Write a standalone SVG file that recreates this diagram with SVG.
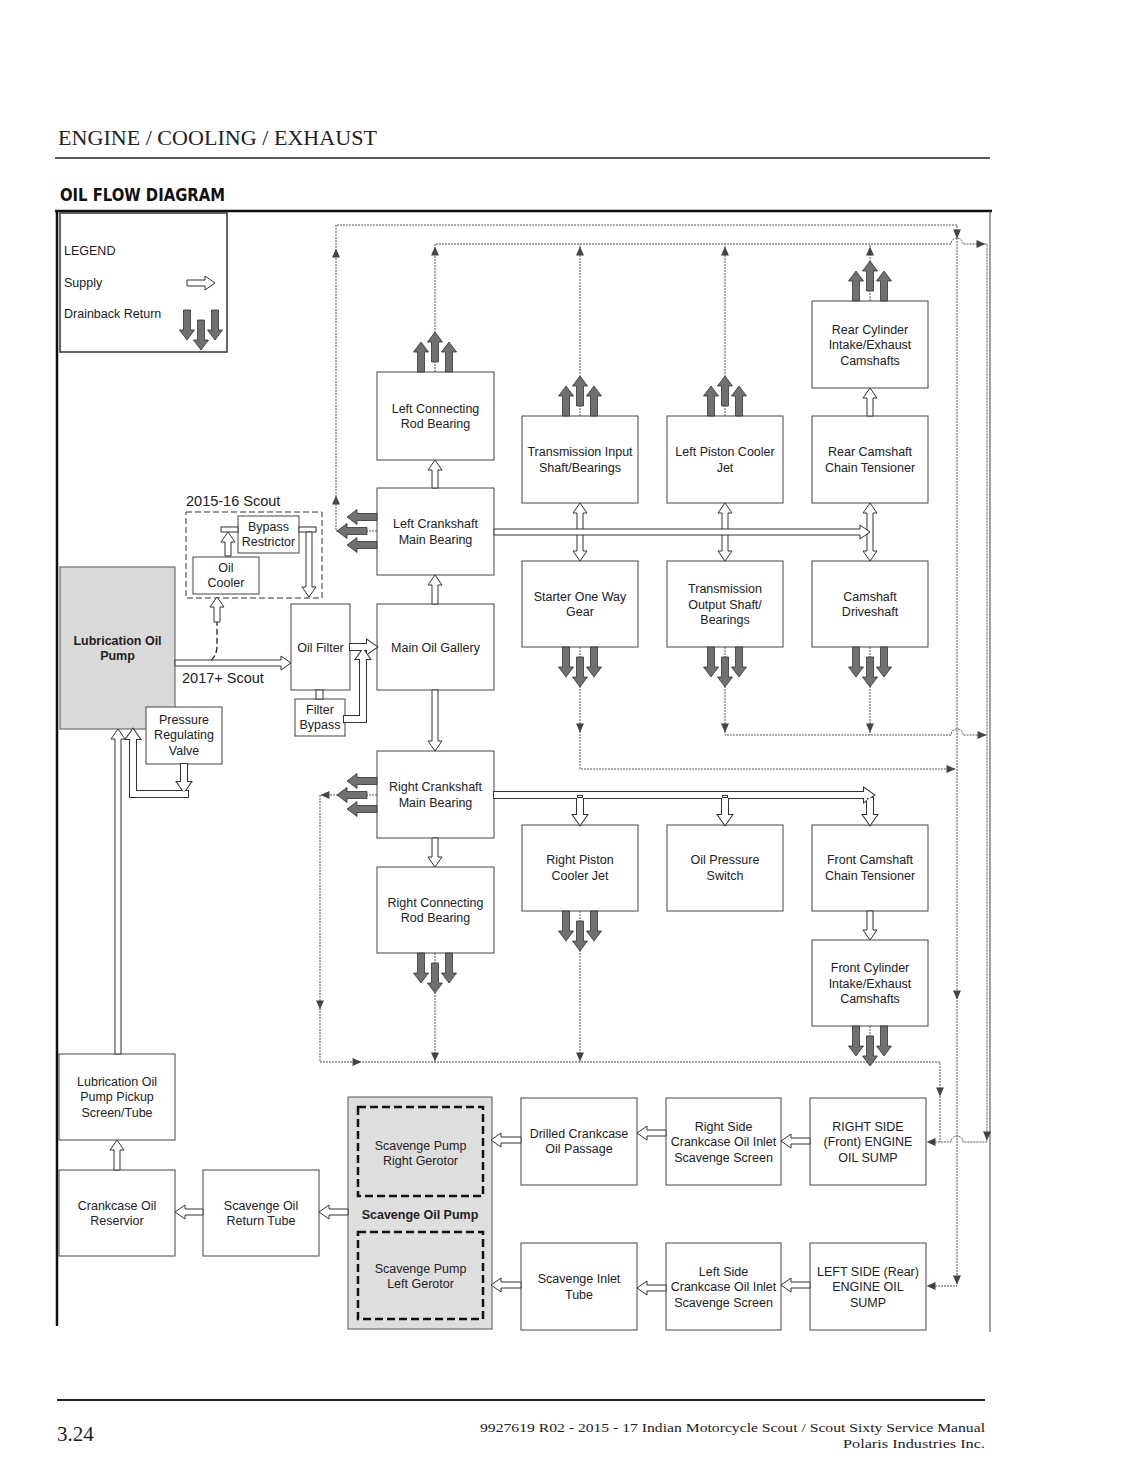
<svg xmlns="http://www.w3.org/2000/svg" width="1132" height="1466" viewBox="0 0 1132 1466">
<style>
.box{fill:#fff;stroke:#444;stroke-width:1}
.shade{fill:#d9d9d9;stroke:#555;stroke-width:1}
.t{font-family:"Liberation Sans",Arial,sans-serif;font-size:12.5px;fill:#222;text-anchor:middle}
.tb{font-weight:bold}
.tl{font-family:"Liberation Sans",Arial,sans-serif;font-size:12.5px;fill:#222}
.sup{fill:#fff;stroke:#333;stroke-width:1}
.uo{fill:none;stroke:#333;stroke-width:2}
.uf{fill:#fff;stroke:none}
.dr{fill:#707070;stroke:#333;stroke-width:0.8}
.dot{fill:none;stroke:#555;stroke-width:1;stroke-dasharray:2 1}
.ah{fill:#444}
.gdash{fill:none;stroke:#111;stroke-width:2.5;stroke-dasharray:8 4}
.sdash{fill:none;stroke:#333;stroke-width:1;stroke-dasharray:6 3}
</style>
<defs>
<path id="da" d="M-3.5,0 H3.5 V20 H7.5 L0,30 L-7.5,20 H-3.5 Z"/>
<path id="ta" d="M4.5,0 L-4.5,-4 L-4.5,4 Z"/>
<path id="rcs" d="M494,792 H864 V788 L874,795 L864,802 V798 H494 Z M577,795 V815 H573 L580,825 L587,815 H583 V795 Z M722,795 V815 H718 L725,825 L732,815 H728 V795 Z M867,798 V815 H863 L870,825 L877,815 H873 V798 Z"/>
<path id="fss" d="M350,644 H367 V640 L377,647 L367,654 V650 H350 Z M344,716 H360 V659 H356 L363,649 L370,659 H366 V722 H344 Z"/>
<path id="vss" d="M130,797 V739 H126 L133,729 L140,739 H136 V791 H188 V797 Z M181,764 V782 H177 L184,792 L191,782 H187 V764 Z"/>
</defs>
<rect width="1132" height="1466" fill="#fff"/>

<g id="page">
<text x="58" y="145" font-family="'Liberation Serif',serif" font-size="21" fill="#222" textLength="319" lengthAdjust="spacingAndGlyphs">ENGINE / COOLING / EXHAUST</text>
<line x1="55" y1="158" x2="990" y2="158" stroke="#222" stroke-width="1.5"/>
<text x="60" y="201" font-family="'DejaVu Sans Condensed','DejaVu Sans',sans-serif" font-weight="bold" font-size="18" fill="#111" textLength="165" lengthAdjust="spacingAndGlyphs">OIL FLOW DIAGRAM</text>
<line x1="55" y1="211" x2="992" y2="211" stroke="#111" stroke-width="2.5"/>
<line x1="57" y1="211" x2="57" y2="1326" stroke="#111" stroke-width="2.5"/>
<line x1="990" y1="211" x2="990" y2="1332" stroke="#444" stroke-width="1"/>
<line x1="57" y1="1400" x2="985" y2="1400" stroke="#222" stroke-width="2"/>
<text x="57" y="1441" font-family="'Liberation Serif',serif" font-size="21" fill="#222">3.24</text>
<text x="985" y="1432" text-anchor="end" font-family="'Liberation Serif',serif" font-size="13.5" fill="#222" textLength="505" lengthAdjust="spacingAndGlyphs">9927619 R02 - 2015 - 17 Indian Motorcycle Scout / Scout Sixty Service Manual</text>
<text x="985" y="1448" text-anchor="end" font-family="'Liberation Serif',serif" font-size="13.5" fill="#222" textLength="142" lengthAdjust="spacingAndGlyphs">Polaris Industries Inc.</text>
</g>

<g id="legend">
<rect x="60" y="213" width="167" height="139" fill="#fff" stroke="#333" stroke-width="1.5"/>
<text class="tl" x="64" y="255">LEGEND</text>
<text class="tl" x="64" y="287">Supply</text>
<text class="tl" x="64" y="318">Drainback Return</text>
<polygon class="sup" points="187,280 205,280 205,276 215,283 205,290 205,286 187,286"/>
<use href="#da" class="dr" transform="translate(187,310)"/>
<use href="#da" class="dr" transform="translate(215,310)"/>
<use href="#da" class="dr" transform="translate(201,320)"/>
</g>

<g id="connectors-return">
<path class="dot" d="M377,531 H336 V225 H957 V1286 H928"/>
<path class="dot" d="M435,372 V244 H951 A6,6 0 0 1 963,244 H987 V1142 H963 A6,6 0 0 0 951,1142 H928"/>
<path class="dot" d="M580,416 V244"/>
<path class="dot" d="M725,416 V244"/>
<path class="dot" d="M870,301 V244"/>
<path class="dot" d="M580,647 V769 H955"/>
<path class="dot" d="M725,647 V735 H951 A6,6 0 0 1 963,735 H987"/>
<path class="dot" d="M870,647 V735"/>
<path class="dot" d="M377,795 H320 V1062 H940 V1142"/>
<path class="dot" d="M435,953 V1062"/>
<path class="dot" d="M580,911 V1062"/>
<path class="dot" d="M870,1026 V1062"/>
<g class="ah">
<use href="#ta" transform="translate(336,500) rotate(-90)"/>
<use href="#ta" transform="translate(336,253) rotate(-90)"/>
<use href="#ta" transform="translate(957,234) rotate(90)"/>
<use href="#ta" transform="translate(957,995) rotate(90)"/>
<use href="#ta" transform="translate(957,1280) rotate(90)"/>
<use href="#ta" transform="translate(931,1286) rotate(180)"/>
<use href="#ta" transform="translate(435,251) rotate(-90)"/>
<use href="#ta" transform="translate(580,251) rotate(-90)"/>
<use href="#ta" transform="translate(725,251) rotate(-90)"/>
<use href="#ta" transform="translate(870,251) rotate(-90)"/>
<use href="#ta" transform="translate(981,244)"/>
<use href="#ta" transform="translate(987,1136) rotate(90)"/>
<use href="#ta" transform="translate(931,1142) rotate(180)"/>
<use href="#ta" transform="translate(580,728) rotate(90)"/>
<use href="#ta" transform="translate(951,769)"/>
<use href="#ta" transform="translate(725,728) rotate(90)"/>
<use href="#ta" transform="translate(982,735)"/>
<use href="#ta" transform="translate(870,728) rotate(90)"/>
<use href="#ta" transform="translate(325,795) rotate(180)"/>
<use href="#ta" transform="translate(320,1005) rotate(90)"/>
<use href="#ta" transform="translate(357,1062)"/>
<use href="#ta" transform="translate(940,1092) rotate(90)"/>
<use href="#ta" transform="translate(435,1057) rotate(90)"/>
<use href="#ta" transform="translate(580,1057) rotate(90)"/>
</g>
</g>

<g id="nodes">
<g id="scout1516">
<rect x="186" y="512" width="136" height="86" class="sdash"/>
<text x="186" y="506" font-family="'Liberation Sans',Arial,sans-serif" font-size="14.5" fill="#222">2015-16 Scout</text>
</g>
<g id="lube-pump"><rect class="shade" x="60" y="567" width="115" height="162"/><text class="t tb" x="117.5" y="644.5">Lubrication Oil<tspan x="117.5" dy="15.5">Pump</tspan></text></g>
<g id="pressure-valve"><rect class="box" x="146" y="707" width="76" height="57"/><text class="t" x="184" y="723.5">Pressure<tspan x="184" dy="15.5">Regulating</tspan><tspan x="184" dy="15.5">Valve</tspan></text></g>
<g id="oil-cooler"><rect class="box" x="193" y="557" width="66" height="37"/><text class="t" x="226" y="571.5">Oil<tspan x="226" dy="15.5">Cooler</tspan></text></g>
<g id="bypass-restrictor"><rect class="box" x="238" y="516" width="61" height="37"/><text class="t" x="268.5" y="530.5">Bypass<tspan x="268.5" dy="15.5">Restrictor</tspan></text></g>
<g id="oil-filter"><rect class="box" x="291" y="604" width="59" height="86"/><text class="t" x="320.5" y="651.5">Oil Filter</text></g>
<g id="filter-bypass"><rect class="box" x="295" y="699" width="50" height="37"/><text class="t" x="320" y="713.5">Filter<tspan x="320" dy="15.5">Bypass</tspan></text></g>
<g id="left-conrod"><rect class="box" x="377" y="372" width="117" height="88"/><text class="t" x="435.5" y="412.5">Left Connecting<tspan x="435.5" dy="15.5">Rod Bearing</tspan></text></g>
<g id="left-crank"><rect class="box" x="377" y="488" width="117" height="87"/><text class="t" x="435.5" y="528">Left Crankshaft<tspan x="435.5" dy="15.5">Main Bearing</tspan></text></g>
<g id="main-gallery"><rect class="box" x="377" y="604" width="117" height="86"/><text class="t" x="435.5" y="651.5">Main Oil Gallery</text></g>
<g id="right-crank"><rect class="box" x="377" y="751" width="117" height="87"/><text class="t" x="435.5" y="791">Right Crankshaft<tspan x="435.5" dy="15.5">Main Bearing</tspan></text></g>
<g id="right-conrod"><rect class="box" x="377" y="867" width="117" height="86"/><text class="t" x="435.5" y="906.5">Right Connecting<tspan x="435.5" dy="15.5">Rod Bearing</tspan></text></g>
<g id="trans-input"><rect class="box" x="522" y="416" width="116" height="87"/><text class="t" x="580" y="456">Transmission Input<tspan x="580" dy="15.5">Shaft/Bearings</tspan></text></g>
<g id="starter"><rect class="box" x="522" y="561" width="116" height="86"/><text class="t" x="580" y="600.5">Starter One Way<tspan x="580" dy="15.5">Gear</tspan></text></g>
<g id="right-piston"><rect class="box" x="522" y="825" width="116" height="86"/><text class="t" x="580" y="864">Right Piston<tspan x="580" dy="15.5">Cooler Jet</tspan></text></g>
<g id="left-piston"><rect class="box" x="667" y="416" width="116" height="87"/><text class="t" x="725" y="456">Left Piston Cooler<tspan x="725" dy="15.5">Jet</tspan></text></g>
<g id="trans-output"><rect class="box" x="667" y="561" width="116" height="86"/><text class="t" x="725" y="593">Transmission<tspan x="725" dy="15.5">Output Shaft/</tspan><tspan x="725" dy="15.5">Bearings</tspan></text></g>
<g id="oil-pressure"><rect class="box" x="667" y="825" width="116" height="86"/><text class="t" x="725" y="864">Oil Pressure<tspan x="725" dy="15.5">Switch</tspan></text></g>
<g id="rear-cyl"><rect class="box" x="812" y="301" width="116" height="87"/><text class="t" x="870" y="333.5">Rear Cylinder<tspan x="870" dy="15.5">Intake/Exhaust</tspan><tspan x="870" dy="15.5">Camshafts</tspan></text></g>
<g id="rear-tensioner"><rect class="box" x="812" y="416" width="116" height="87"/><text class="t" x="870" y="456">Rear Camshaft<tspan x="870" dy="15.5">Chain Tensioner</tspan></text></g>
<g id="cam-drive"><rect class="box" x="812" y="561" width="116" height="86"/><text class="t" x="870" y="600.5">Camshaft<tspan x="870" dy="15.5">Driveshaft</tspan></text></g>
<g id="front-tensioner"><rect class="box" x="812" y="825" width="116" height="86"/><text class="t" x="870" y="864">Front Camshaft<tspan x="870" dy="15.5">Chain Tensioner</tspan></text></g>
<g id="front-cyl"><rect class="box" x="812" y="940" width="116" height="86"/><text class="t" x="870" y="972">Front Cylinder<tspan x="870" dy="15.5">Intake/Exhaust</tspan><tspan x="870" dy="15.5">Camshafts</tspan></text></g>
<g id="right-sump"><rect class="box" x="810" y="1098" width="116" height="87"/><text class="t" x="868" y="1130.5">RIGHT SIDE<tspan x="868" dy="15.5">(Front) ENGINE</tspan><tspan x="868" dy="15.5">OIL SUMP</tspan></text></g>
<g id="left-sump"><rect class="box" x="810" y="1243" width="116" height="87"/><text class="t" x="868" y="1275.5">LEFT SIDE (Rear)<tspan x="868" dy="15.5">ENGINE OIL</tspan><tspan x="868" dy="15.5">SUMP</tspan></text></g>
<g id="right-screen"><rect class="box" x="666" y="1098" width="115" height="87"/><text class="t" x="723.5" y="1130.5">Right Side<tspan x="723.5" dy="15.5">Crankcase Oil Inlet</tspan><tspan x="723.5" dy="15.5">Scavenge Screen</tspan></text></g>
<g id="left-screen"><rect class="box" x="666" y="1243" width="115" height="87"/><text class="t" x="723.5" y="1275.5">Left Side<tspan x="723.5" dy="15.5">Crankcase Oil Inlet</tspan><tspan x="723.5" dy="15.5">Scavenge Screen</tspan></text></g>
<g id="drilled"><rect class="box" x="521" y="1098" width="116" height="87"/><text class="t" x="579" y="1137.5">Drilled Crankcase<tspan x="579" dy="15.5">Oil Passage</tspan></text></g>
<g id="inlet-tube"><rect class="box" x="521" y="1243" width="116" height="87"/><text class="t" x="579" y="1283">Scavenge Inlet<tspan x="579" dy="15.5">Tube</tspan></text></g>
<g id="scavenge-pump">
<rect class="shade" x="348" y="1097" width="144" height="232" style="fill:#dedede"/>
<rect class="gdash" x="358" y="1107" width="125" height="89"/>
<rect class="gdash" x="358" y="1232" width="125" height="87"/>
<text class="t" x="420.5" y="1149.5">Scavenge Pump<tspan x="420.5" dy="15.5">Right Gerotor</tspan></text>
<text class="t tb" x="420" y="1218.5">Scavenge Oil Pump</text>
<text class="t" x="420.5" y="1272.5">Scavenge Pump<tspan x="420.5" dy="15.5">Left Gerotor</tspan></text>
</g>
<g id="return-tube"><rect class="box" x="203" y="1170" width="116" height="86"/><text class="t" x="261" y="1209.5">Scavenge Oil<tspan x="261" dy="15.5">Return Tube</tspan></text></g>
<g id="reservoir"><rect class="box" x="59" y="1170" width="116" height="86"/><text class="t" x="117" y="1209.5">Crankcase Oil<tspan x="117" dy="15.5">Reservior</tspan></text></g>
<g id="pickup"><rect class="box" x="59" y="1054" width="116" height="86"/><text class="t" x="117" y="1085.5">Lubrication Oil<tspan x="117" dy="15.5">Pump Pickup</tspan><tspan x="117" dy="15.5">Screen/Tube</tspan></text></g>
</g>

<g id="connectors-supply">
<polygon class="sup" points="432,488 432,470 428,470 435,460 442,470 438,470 438,488"/>
<polygon class="sup" points="432,604 432,585 428,585 435,575 442,585 438,585 438,604"/>
<polygon class="sup" points="432,690 432,741 428,741 435,751 442,741 438,741 438,690"/>
<polygon class="sup" points="432,838 432,857 428,857 435,867 442,857 438,857 438,838"/>
<polygon class="sup" points="867,416 867,398 863,398 870,388 877,398 873,398 873,416"/>
<polygon class="sup" points="867,911 867,930 863,930 870,940 877,930 873,930 873,911"/>
<polygon class="sup" points="580,503 587,513 583,513 583,551 587,551 580,561 573,551 577,551 577,513 573,513"/>
<polygon class="sup" points="725,503 732,513 728,513 728,551 732,551 725,561 718,551 722,551 722,513 718,513"/>
<polygon class="sup" points="870,503 877,513 873,513 873,551 877,551 870,561 863,551 867,551 867,513 863,513"/>
<polygon class="sup" points="494,529 860,529 860,525 870,532 860,539 860,535 494,535"/>
<use href="#rcs" class="uo"/><use href="#rcs" class="uf"/>
<use href="#fss" class="uo"/><use href="#fss" class="uf"/>
<use href="#vss" class="uo"/><use href="#vss" class="uf"/>
<rect x="316" y="690" width="7" height="9" class="sup"/>
<polygon class="sup" points="175,660 281,660 281,656 291,663 281,670 281,666 175,666"/>
<text x="182" y="683" font-family="'Liberation Sans',Arial,sans-serif" font-size="14.5" fill="#222">2017+ Scout</text>
<path d="M211,660 Q217,656 217,645 V622" fill="none" stroke="#222" stroke-width="1.3" stroke-dasharray="6 3"/>
<polygon class="sup" points="214,622 214,607 210,607 217,597 224,607 220,607 220,622"/>
<polygon class="sup" points="225,556 225,542 221,542 228,532 235,542 231,542 231,556"/>
<rect x="221" y="527" width="17" height="5" class="sup"/>
<rect x="299" y="527" width="17" height="5" class="sup"/>
<polygon class="sup" points="306,532 306,587 302,587 309,597 316,587 312,587 312,532"/>
<polygon class="sup" points="115,1054 115,739 111,739 118,729 125,739 121,739 121,1054"/>
<polygon class="sup" points="114,1170 114,1150 110,1150 117,1140 124,1150 120,1150 120,1170"/>
<polygon class="sup" points="203,1209 185,1209 185,1205 175,1212 185,1219 185,1215 203,1215"/>
<polygon class="sup" points="348,1209 329,1209 329,1205 319,1212 329,1219 329,1215 348,1215"/>
<polygon class="sup" points="521,1137 501,1137 501,1133 491,1140 501,1147 501,1143 521,1143"/>
<polygon class="sup" points="666,1130 647,1130 647,1126 637,1133 647,1140 647,1136 666,1136"/>
<polygon class="sup" points="810,1138 791,1138 791,1134 781,1141 791,1148 791,1144 810,1144"/>
<polygon class="sup" points="521,1282 501,1282 501,1278 491,1285 501,1292 501,1288 521,1288"/>
<polygon class="sup" points="666,1285 647,1285 647,1281 637,1288 647,1295 647,1291 666,1291"/>
<polygon class="sup" points="810,1282 791,1282 791,1278 781,1285 791,1292 791,1288 810,1288"/>
</g>

<g id="connectors-drainback" class="dr">
<use href="#da" transform="translate(421,372) rotate(180)"/>
<use href="#da" transform="translate(449,372) rotate(180)"/>
<use href="#da" transform="translate(435,362) rotate(180)"/>
<use href="#da" transform="translate(566,416) rotate(180)"/>
<use href="#da" transform="translate(594,416) rotate(180)"/>
<use href="#da" transform="translate(580,406) rotate(180)"/>
<use href="#da" transform="translate(711,416) rotate(180)"/>
<use href="#da" transform="translate(739,416) rotate(180)"/>
<use href="#da" transform="translate(725,406) rotate(180)"/>
<use href="#da" transform="translate(856,301) rotate(180)"/>
<use href="#da" transform="translate(884,301) rotate(180)"/>
<use href="#da" transform="translate(870,291) rotate(180)"/>
<use href="#da" transform="translate(566,647)"/>
<use href="#da" transform="translate(594,647)"/>
<use href="#da" transform="translate(580,657)"/>
<use href="#da" transform="translate(711,647)"/>
<use href="#da" transform="translate(739,647)"/>
<use href="#da" transform="translate(725,657)"/>
<use href="#da" transform="translate(856,647)"/>
<use href="#da" transform="translate(884,647)"/>
<use href="#da" transform="translate(870,657)"/>
<use href="#da" transform="translate(566,911)"/>
<use href="#da" transform="translate(594,911)"/>
<use href="#da" transform="translate(580,921)"/>
<use href="#da" transform="translate(421,953)"/>
<use href="#da" transform="translate(449,953)"/>
<use href="#da" transform="translate(435,963)"/>
<use href="#da" transform="translate(856,1026)"/>
<use href="#da" transform="translate(884,1026)"/>
<use href="#da" transform="translate(870,1036)"/>
<use href="#da" transform="translate(377,517) rotate(90)"/>
<use href="#da" transform="translate(377,545) rotate(90)"/>
<use href="#da" transform="translate(367,531) rotate(90)"/>
<use href="#da" transform="translate(377,781) rotate(90)"/>
<use href="#da" transform="translate(377,809) rotate(90)"/>
<use href="#da" transform="translate(367,795) rotate(90)"/>
</g>
</svg>
